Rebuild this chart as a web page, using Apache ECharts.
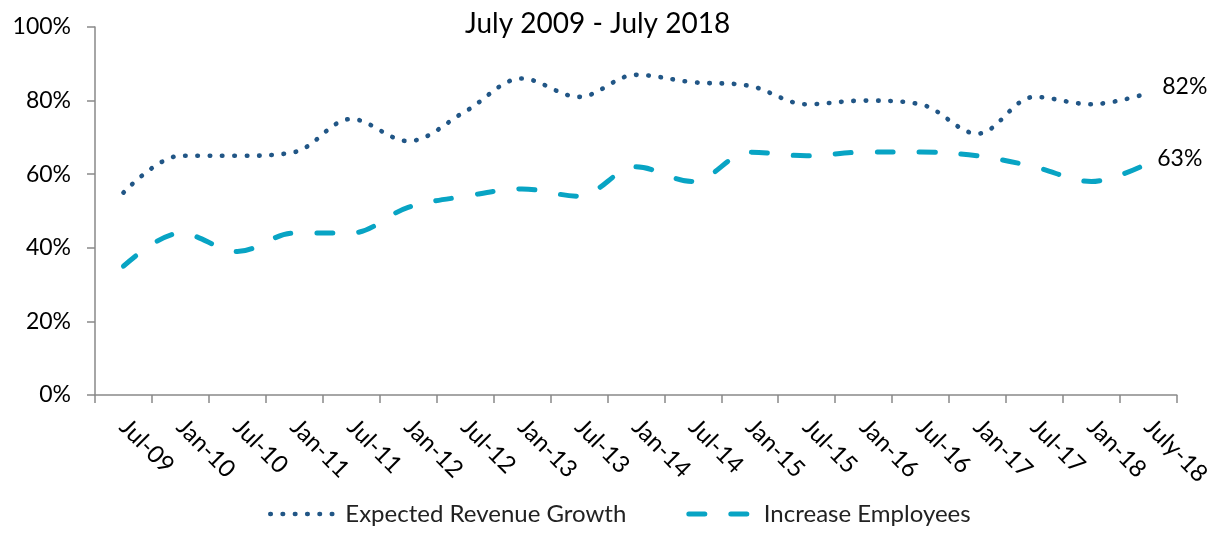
<!DOCTYPE html>
<html>
<head>
<meta charset="utf-8">
<script src="https://cdn.jsdelivr.net/npm/echarts@6/dist/echarts.min.js"></script>
<style>
  html, body { margin: 0; padding: 0; background: #fff; }
  #chart { width: 1214px; height: 533px; }
</style>
</head>
<body>
<div id="chart"></div>
<script>
// Survey periods (half-yearly)
const categories = ['Jul-09', 'Jan-10', 'Jul-10', 'Jan-11', 'Jul-11', 'Jan-12', 'Jul-12', 'Jan-13',
  'Jul-13', 'Jan-14', 'Jul-14', 'Jan-15', 'Jul-15', 'Jan-16', 'Jul-16', 'Jan-17', 'Jul-17', 'Jan-18', 'July-18'];

// Share of respondents (%)
const revenueGrowth = [55, 65, 65, 66, 75, 69, 77, 86, 81, 87, 85, 84, 79, 80, 79, 71, 81, 79, 82];
const increaseEmployees = [35, 44, 39, 44, 44, 51, 54, 56, 54, 62, 58, 66, 65, 66, 66, 65, 62, 58, 63];

const seriesNames = ['Expected Revenue Growth', 'Increase Employees'];
const titleText = 'July 2009 - July 2018';

const FONT = 'Lato, "Open Sans", sans-serif';
const AXIS_GRAY = '#898989';
const DARK_BLUE = '#215686';
const TEAL = '#08a4c4';

const dottedStyle = { color: DARK_BLUE, width: 4.6, type: [0.5, 11.8], cap: 'round' };
const dashedStyle = { color: TEAL, width: 5, type: [16, 26], cap: 'round' };

const chart = echarts.init(document.getElementById('chart'));
chart.setOption({
  animation: false,
  title: {
    text: titleText,
    left: 460,
    top: 5,
    textStyle: { fontFamily: FONT, fontSize: 28, fontWeight: 'normal', color: '#000' }
  },
  grid: { left: 95, right: 37, top: 27, bottom: 138, containLabel: false },
  legend: {
    bottom: 2,
    left: 263,
    itemWidth: 66,
    itemHeight: 14,
    itemGap: 60,
    itemStyle: { opacity: 0 },
    textStyle: { fontFamily: FONT, fontSize: 24, color: '#222', padding: [0, 0, 0, 4] },
    data: [
      { name: seriesNames[0], lineStyle: dottedStyle },
      { name: seriesNames[1], lineStyle: dashedStyle }
    ]
  },
  xAxis: {
    type: 'category',
    data: categories,
    boundaryGap: true,
    axisLine: { lineStyle: { color: AXIS_GRAY, width: 1.5 } },
    axisTick: { show: true, length: 8, lineStyle: { color: AXIS_GRAY, width: 1.5 } },
    axisLabel: {
      rotate: -45,
      interval: 0,
      margin: 28,
      fontFamily: FONT,
      fontSize: 24,
      color: '#000'
    },
    splitLine: { show: false }
  },
  yAxis: {
    type: 'value',
    min: 0,
    max: 100,
    interval: 20,
    axisLine: { show: true, lineStyle: { color: AXIS_GRAY, width: 1.5 } },
    axisTick: { show: true, length: 8, lineStyle: { color: AXIS_GRAY, width: 1.5 } },
    axisLabel: {
      formatter: '{value}%',
      margin: 24,
      fontFamily: FONT,
      fontSize: 23,
      color: '#000'
    },
    splitLine: { show: false }
  },
  series: [
    {
      name: seriesNames[0],
      type: 'line',
      data: revenueGrowth,
      smooth: 0.35,
      showSymbol: false,
      symbol: 'none',
      color: DARK_BLUE,
      lineStyle: dottedStyle,
      endLabel: {
        show: true,
        formatter: p => p.value + '%',
        distance: 14,
        offset: [0, -7],
        fontFamily: FONT,
        fontSize: 23,
        color: '#000'
      }
    },
    {
      name: seriesNames[1],
      type: 'line',
      data: increaseEmployees,
      smooth: 0.35,
      showSymbol: false,
      symbol: 'none',
      color: TEAL,
      lineStyle: dashedStyle,
      endLabel: {
        show: true,
        formatter: p => p.value + '%',
        distance: 9,
        offset: [0, -5],
        fontFamily: FONT,
        fontSize: 23,
        color: '#000'
      }
    }
  ]
});
</script>
</body>
</html>
